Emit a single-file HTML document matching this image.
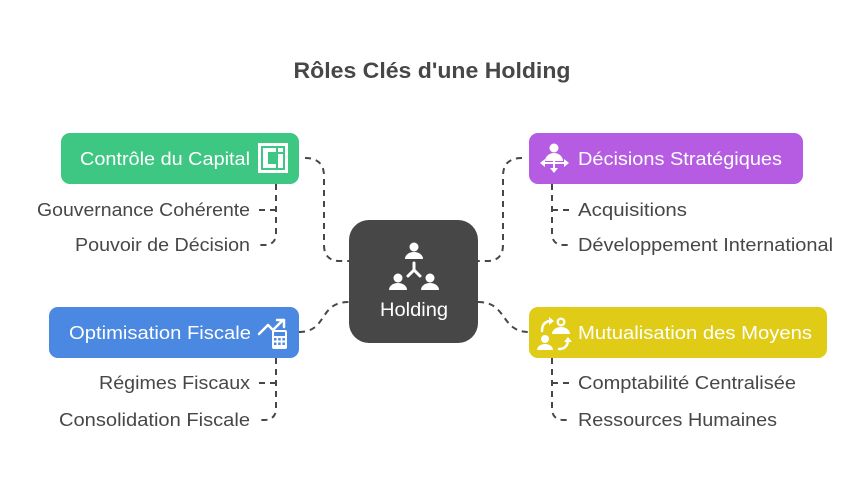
<!DOCTYPE html>
<html><head><meta charset="utf-8"><style>
html,body{margin:0;padding:0;background:#fff;}
svg{display:block;}
text{font-family:"Liberation Sans",sans-serif;}
</style></head><body>
<svg width="864" height="480" viewBox="0 0 864 480" xmlns="http://www.w3.org/2000/svg">
<rect width="864" height="480" fill="#fff"/>
<text x="432" y="78" text-anchor="middle" font-size="22" font-weight="bold" fill="#474747" textLength="277" lengthAdjust="spacingAndGlyphs">Rôles Clés d'une Holding</text>

<g fill="none" stroke="#474747" stroke-width="2" stroke-dasharray="6 5">
  <path d="M305,158 Q324,158 324,176 L324,245 Q324,261 340,261 L349,261"/>
  <path d="M522,158 Q503,158 503,176 L503,245 Q503,261 487,261 L478,261"/>
  <path d="M299,332 C328,332 318,302 349,302"/>
  <path d="M478,302 C508,302 500,332 529,332"/>
  <path d="M276,184 L276,233 Q276,245 264,245 L258,245"/>
  <path d="M276,210 L258,210"/>
  <path d="M276,358 L276,408 Q276,420 264,420 L258,420"/>
  <path d="M276,383 L258,383"/>
  <path d="M552,184 L552,233 Q552,245 564,245 L570,245"/>
  <path d="M552,210 L570,210"/>
  <path d="M552,358 L552,408 Q552,420 564,420 L570,420"/>
  <path d="M552,383 L570,383"/>
</g>

<!-- Holding -->
<rect x="349" y="220" width="129" height="123" rx="20" fill="#474747"/>
<g fill="#fff">
  <circle cx="414" cy="247" r="4.5"/>
  <path d="M405,259 A9,7 0 0 1 423,259 Z"/>
  <circle cx="398" cy="278" r="4.5"/>
  <path d="M389,290 A9,7 0 0 1 407,290 Z"/>
  <circle cx="430" cy="278" r="4.5"/>
  <path d="M421,290 A9,7 0 0 1 439,290 Z"/>
</g>
<g stroke="#fff" stroke-width="3" fill="none" stroke-linecap="round">
  <path d="M414,263 L414,270 M414,270 L408,276 M414,270 L420,276"/>
</g>
<text x="414" y="316" text-anchor="middle" font-size="19" fill="#fff" textLength="68" lengthAdjust="spacingAndGlyphs">Holding</text>

<!-- Green -->
<rect x="61" y="133" width="238" height="51" rx="9" fill="#3ec683"/>
<text x="80" y="165" font-size="18" fill="#fff" textLength="170" lengthAdjust="spacingAndGlyphs">Contrôle du Capital</text>
<rect x="258" y="143" width="30" height="30" fill="#fff"/>
<rect x="261" y="146" width="24" height="24" fill="#3ec683"/>
<path d="M263,148 h13 v4 h-8 v12 h8 v4 h-13 z" fill="#fff"/>
<rect x="278" y="148" width="5" height="4" fill="#fff"/>
<rect x="278" y="154" width="5" height="14" fill="#fff"/>

<!-- Purple -->
<rect x="529" y="133" width="274" height="51" rx="9" fill="#b55ce2"/>
<text x="578" y="165" font-size="18" fill="#fff" textLength="204" lengthAdjust="spacingAndGlyphs">Décisions Stratégiques</text>
<g fill="#fff">
  <circle cx="554" cy="148" r="4.5"/>
  <path d="M545,161 A9,8 0 0 1 563,161 Z"/>
  <path d="M540,163 l5,-4 v8 z M569,163 l-5,-4 v8 z"/>
  <path d="M550,168 h8 l-4,5 z"/>
</g>
<g stroke="#fff" stroke-width="2" fill="none">
  <path d="M543,163 H566 M554,161 V169"/>
</g>

<!-- Blue -->
<rect x="49" y="307" width="250" height="51" rx="9" fill="#4a88e2"/>
<text x="69" y="339" font-size="18" fill="#fff" textLength="182" lengthAdjust="spacingAndGlyphs">Optimisation Fiscale</text>
<g stroke="#fff" stroke-width="2.5" fill="none" stroke-linecap="round" stroke-linejoin="round">
  <path d="M259,334 L268,325 L273,330 L283,320"/>
  <path d="M277,320 H284 V327"/>
</g>
<rect x="272" y="330" width="15" height="19" rx="2" fill="#fff"/>
<rect x="274" y="332" width="11" height="4" fill="#4a88e2"/>
<g fill="#4a88e2">
  <rect x="274" y="338" width="2.5" height="2.5"/><rect x="278.2" y="338" width="2.5" height="2.5"/><rect x="282.4" y="338" width="2.5" height="2.5"/>
  <rect x="274" y="342.5" width="2.5" height="2.5"/><rect x="278.2" y="342.5" width="2.5" height="2.5"/><rect x="282.4" y="342.5" width="2.5" height="2.5"/>
</g>

<!-- Yellow -->
<rect x="529" y="307" width="298" height="51" rx="9" fill="#e0cb17"/>
<text x="578" y="339" font-size="18" fill="#fff" textLength="234" lengthAdjust="spacingAndGlyphs">Mutualisation des Moyens</text>
<g fill="#fff">
  <circle cx="561" cy="322" r="4.5"/>
  <path d="M552,334 A9,7 0 0 1 570,334 Z"/>
  <circle cx="545" cy="339" r="4"/>
  <path d="M537,350 A8,6 0 0 1 553,350 Z"/>
</g>
<circle cx="561" cy="322" r="2.2" fill="#e0cb17"/>
<g stroke="#fff" stroke-width="2.5" fill="none" stroke-linecap="round">
  <path d="M542,331 Q542,322 550,321"/>
  <path d="M559,349 Q567,349 568,341"/>
</g>
<g fill="#fff">
  <path d="M549,317 l5,4 l-5,4 z"/>
  <path d="M564,342 l4,-5 l4,5 z"/>
</g>

<!-- Sub items -->
<g font-size="18" fill="#474747">
  <text x="250" y="216" text-anchor="end" textLength="213" lengthAdjust="spacingAndGlyphs">Gouvernance Cohérente</text>
  <text x="250" y="251" text-anchor="end" textLength="175" lengthAdjust="spacingAndGlyphs">Pouvoir de Décision</text>
  <text x="250" y="389" text-anchor="end" textLength="151" lengthAdjust="spacingAndGlyphs">Régimes Fiscaux</text>
  <text x="250" y="426" text-anchor="end" textLength="191" lengthAdjust="spacingAndGlyphs">Consolidation Fiscale</text>
  <text x="578" y="216" textLength="109" lengthAdjust="spacingAndGlyphs">Acquisitions</text>
  <text x="578" y="251" textLength="255" lengthAdjust="spacingAndGlyphs">Développement International</text>
  <text x="578" y="389" textLength="218" lengthAdjust="spacingAndGlyphs">Comptabilité Centralisée</text>
  <text x="578" y="426" textLength="199" lengthAdjust="spacingAndGlyphs">Ressources Humaines</text>
</g>
</svg>
</body></html>
